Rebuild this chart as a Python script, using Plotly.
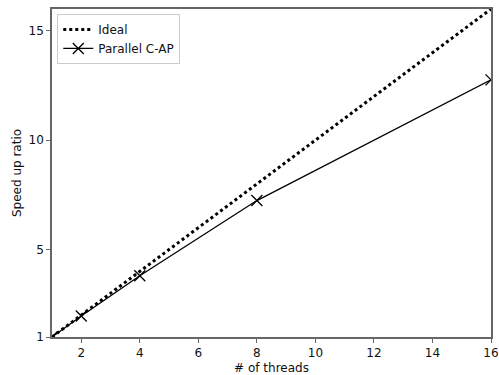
import plotly.graph_objects as go

threads = [1, 2, 4, 8, 16]
ideal_x = [1, 16]
ideal_y = [1, 16]
parallel_speedup = [1.0, 1.96, 3.80, 7.24, 12.76]
x_ticks = [2, 4, 6, 8, 10, 12, 14, 16]
y_ticks = [1, 5, 10, 15]

fig = go.Figure()
fig.add_trace(go.Scatter(x=ideal_x, y=ideal_y, mode="lines", name="Ideal",
                         line=dict(color="black", width=3, dash="dot")))
fig.add_trace(go.Scatter(x=threads, y=parallel_speedup, mode="lines+markers", name="Parallel C-AP",
                         line=dict(color="black", width=1.3),
                         marker=dict(symbol="x-thin", size=11, line=dict(color="black", width=1.3))))

axis_common = dict(showgrid=False, zeroline=False, showline=True, linecolor="#666", linewidth=1.5,
                   mirror=True, ticks="outside", ticklen=4, tickcolor="#666", automargin=False,
                   tickfont=dict(size=12, color="#111"))
fig.update_layout(
    width=499, height=375,
    margin=dict(l=52, r=8, t=9, b=38),
    plot_bgcolor="white", paper_bgcolor="white",
    font=dict(family="DejaVu Sans", size=12, color="#111"),
    showlegend=True,
    legend=dict(x=0.012, y=0.985, xanchor="left", yanchor="top",
                bordercolor="#ccc", borderwidth=1, bgcolor="rgba(255,255,255,0.8)",
                font=dict(size=12), tracegroupgap=0, itemwidth=30),
    xaxis=dict(range=[1, 16], tickvals=x_ticks,
               title=dict(text="# of threads", standoff=4, font=dict(size=12)), **axis_common),
    yaxis=dict(range=[1, 16], tickvals=y_ticks,
               title=dict(text="Speed up ratio", standoff=4, font=dict(size=12)), **axis_common),
)
fig.write_html("out.html", config={"displayModeBar": False},
               post_script="document.body.style.margin='0';document.body.style.overflow='hidden';")
